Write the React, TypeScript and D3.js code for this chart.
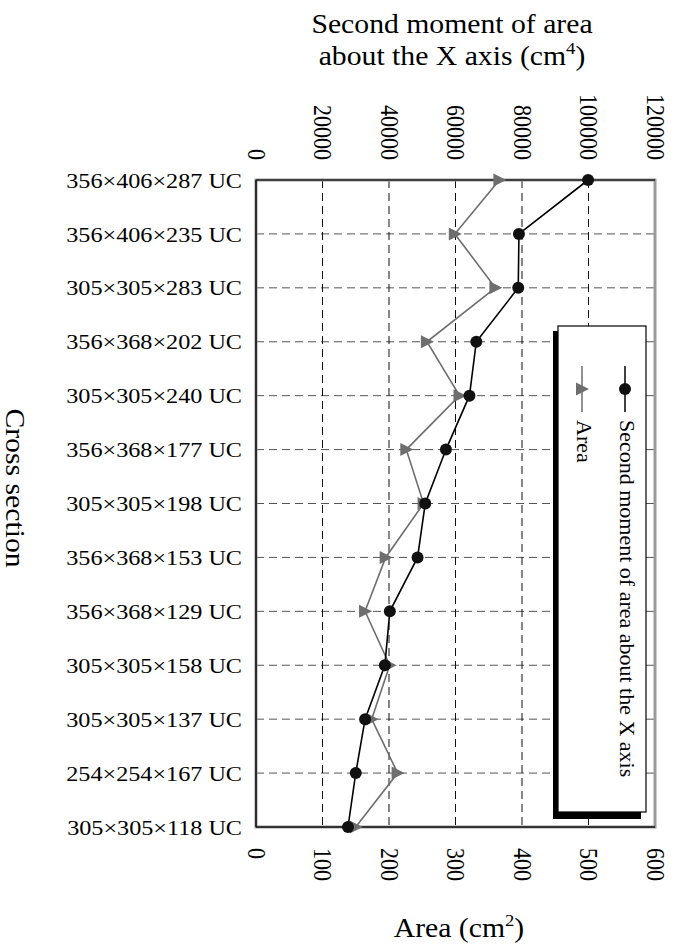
import React from "react";
import * as d3 from "d3";

const categories = [
  "356×406×287 UC",
  "356×406×235 UC",
  "305×305×283 UC",
  "356×368×202 UC",
  "305×305×240 UC",
  "356×368×177 UC",
  "305×305×198 UC",
  "356×368×153 UC",
  "356×368×129 UC",
  "305×305×158 UC",
  "305×305×137 UC",
  "254×254×167 UC",
  "305×305×118 UC",
];
const secondMoment = [99880, 79080, 78870, 66260, 64200, 57120, 50900, 48590, 40250, 38750, 32810, 30000, 27670];
const areaValues = [366, 299, 360, 257, 306, 226, 252, 195, 164, 201, 174, 213, 150];
const topTicks = [0, 20000, 40000, 60000, 80000, 100000, 120000];
const bottomTicks = [0, 100, 200, 300, 400, 500, 600];

const W = 675;
const H = 949;
const FONT = "'Liberation Serif', 'Times New Roman', serif";

const left = 256;
const right = 655;
const top = 180;
const bottom = 827;

export default function App() {
  const y = d3.scalePoint<string>().domain(categories).range([top, bottom]);
  const xI = d3.scaleLinear().domain([0, 120000]).range([left, right]);
  const xA = d3.scaleLinear().domain([0, 600]).range([left, right]);

  const lineI = d3
    .line<number>()
    .x((d) => xI(d))
    .y((_, i) => y(categories[i]) as number);
  const lineA = d3
    .line<number>()
    .x((d) => xA(d))
    .y((_, i) => y(categories[i]) as number);

  const tri = (cx: number, cy: number) =>
    `M${cx - 6},${cy - 6.5}L${cx + 7},${cy}L${cx - 6},${cy + 6.5}Z`;

  const gray = "#6e6e6e";

  // legend geometry
  const lg = { x: 558, y: 326, w: 88, h: 486 };

  return (
    <svg width={W} height={H} style={{ position: "absolute", left: 0, top: 0, background: "#fff" }}>
      <rect x={0} y={0} width={W} height={H} fill="#fff" />
      {/* title */}
      <g fontFamily={FONT} fontSize={27} fill="#000">
        <text transform={`translate(452,33) scale(1.1,1)`} textAnchor="middle">
          Second moment of area
        </text>
        <text transform={`translate(452,65) scale(1.1,1)`} textAnchor="middle">
          about the X axis (cm<tspan fontSize={17} dy={-11}>4</tspan>
          <tspan dy={11}>)</tspan>
        </text>
        <text transform={`translate(459,937) scale(1.1,1)`} textAnchor="middle">
          Area (cm<tspan fontSize={17} dy={-11}>2</tspan>
          <tspan dy={11}>)</tspan>
        </text>
        <text transform={`translate(15,488) rotate(90) scale(1.1,1)`} textAnchor="middle" dominantBaseline="central">
          Cross section
        </text>
      </g>

      {/* grid */}
      <g>
        {categories.map((c) => (
          <line
            key={c}
            x1={left}
            x2={right}
            y1={y(c)}
            y2={y(c)}
            stroke="#555"
            strokeWidth={1}
            strokeDasharray="8,5"
          />
        ))}
        {bottomTicks.slice(1, -1).map((t) => (
          <line
            key={t}
            x1={xA(t)}
            x2={xA(t)}
            y1={top}
            y2={bottom}
            stroke="#111"
            strokeWidth={1}
            strokeDasharray="8,5"
          />
        ))}
      </g>

      {/* plot border */}
      <rect x={left} y={top} width={right - left} height={bottom - top} fill="none" stroke="#9a9a9a" strokeWidth={3} />
      <line x1={left} x2={right} y1={top} y2={top} stroke="#222" strokeWidth={1.6} />
      <line x1={left} x2={right} y1={bottom} y2={bottom} stroke="#111" strokeWidth={1.6} />
      <line x1={left} x2={left} y1={top} y2={bottom} stroke="#111" strokeWidth={1.6} />

      {/* legend */}
      <rect x={lg.x - 5} y={lg.y + 5} width={lg.w} height={lg.h + 2} fill="#000" />
      <rect x={lg.x} y={lg.y} width={lg.w} height={lg.h} fill="#fff" stroke="#000" strokeWidth={1.2} />
      <line x1={625} x2={625} y1={366} y2={412} stroke="#000" strokeWidth={1.5} />
      <circle cx={625} cy={389} r={6} fill="#111" />
      <line x1={582} x2={582} y1={366} y2={412} stroke={gray} strokeWidth={1.5} />
      <path d={tri(582, 389)} fill={gray} />
      <g fontFamily={FONT} fontSize={20} fill="#000">
        <text transform={`translate(627,420) rotate(90) scale(1.1,1)`} dominantBaseline="central">
          Second moment of area about the X axis
        </text>
        <text transform={`translate(584,420) rotate(90) scale(1.1,1)`} dominantBaseline="central">
          Area
        </text>
      </g>

      {/* series */}
      <path d={lineA(areaValues) || ""} fill="none" stroke={gray} strokeWidth={1.6} />
      <path d={lineI(secondMoment) || ""} fill="none" stroke="#000" strokeWidth={1.6} />
      {areaValues.map((v, i) => (
        <path key={"a" + i} d={tri(xA(v), y(categories[i]) as number)} fill={gray} />
      ))}
      {secondMoment.map((v, i) => (
        <circle key={"s" + i} cx={xI(v)} cy={y(categories[i])} r={6} fill="#111" />
      ))}

      {/* axes labels */}
      <g fontFamily={FONT} fontSize={22} fill="#000">
        {categories.map((c) => (
          <text
            key={c}
            transform={`translate(242,${y(c)}) scale(1.1,1)`}
            textAnchor="end"
            dominantBaseline="central"
          >
            {c}
          </text>
        ))}
      </g>
      <g fontFamily={FONT} fontSize={25} fill="#000">
        {topTicks.map((t) => (
          <text
            key={t}
            transform={`translate(${xI(t)},160) rotate(90) scale(0.88,1)`}
            textAnchor="end"
            dominantBaseline="central"
          >
            {t}
          </text>
        ))}
        {bottomTicks.map((t) => (
          <text
            key={t}
            transform={`translate(${xA(t)},848) rotate(90) scale(0.88,1)`}
            textAnchor="start"
            dominantBaseline="central"
          >
            {t}
          </text>
        ))}
      </g>
    </svg>
  );
}
